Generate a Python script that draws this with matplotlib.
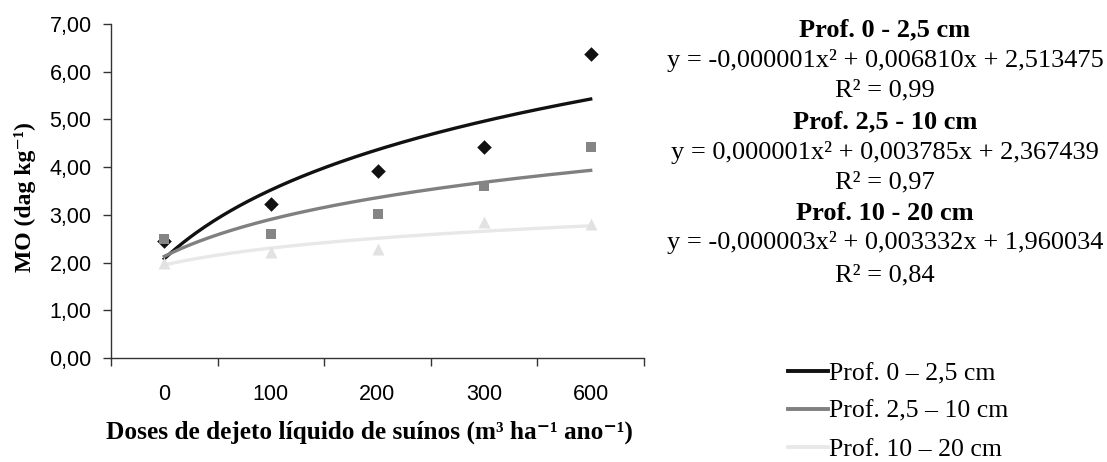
import numpy as np
import matplotlib
matplotlib.use("Agg")
import matplotlib.pyplot as plt
from matplotlib.lines import Line2D

# ---- data ----
categories = ["0", "100", "200", "300", "600"]
mo_0_25 = [2.45, 3.22, 3.92, 4.42, 6.37]
mo_25_10 = [2.49, 2.60, 3.02, 3.60, 4.42]
mo_10_20 = [1.99, 2.22, 2.28, 2.85, 2.81]
# logarithmic trend lines: y = a*ln(i) + b, i = 1..5
trend_a = [2.08, 1.12, 0.51]
trend_b = [2.08, 2.13, 1.95]
series_labels = ["Prof. 0 \u2013 2,5 cm", "Prof. 2,5 \u2013 10 cm", "Prof. 10 \u2013 20 cm"]
eq_titles = ["Prof. 0 - 2,5 cm", "Prof. 2,5 - 10 cm", "Prof. 10 - 20 cm"]
eq_texts = ["y = -0,000001x\u00b2 + 0,006810x + 2,513475",
            "y = 0,000001x\u00b2 + 0,003785x + 2,367439",
            "y = -0,000003x\u00b2 + 0,003332x + 1,960034"]
r2_texts = ["R\u00b2 = 0,99", "R\u00b2 = 0,97", "R\u00b2 = 0,84"]
yticks = [0, 1, 2, 3, 4, 5, 6, 7]

colors = ["#111111", "#808080", "#e8e8e8"]
mcolors = ["#111111", "#858585", "#e2e2e2"]
markers = ["D", "s", "^"]
msizes = [55, 60, 75]

W, H = 1107, 462
fig = plt.figure(figsize=(W / 100, H / 100), dpi=100)
ax = fig.add_axes([111 / W, 1 - 358 / H, (644 - 111) / W, (358 - 24) / H])

x = np.arange(len(categories))
serif = ["Liberation Serif", "DejaVu Serif"]
sans = ["Liberation Sans", "DejaVu Sans"]

for vals, a, b, c, mc, m, ms in zip([mo_0_25, mo_25_10, mo_10_20], trend_a, trend_b,
                                    colors, mcolors, markers, msizes):
    xs = np.linspace(0, len(categories) - 1, 200)
    ax.plot(xs, a * np.log(xs + 1) + b, color=c, lw=2.4, zorder=2)
    ax.scatter(x, vals, marker=m, color=mc, s=ms, zorder=3, linewidths=0)

ax.set_xlim(-0.5, len(categories) - 0.5)
ax.set_ylim(0, 7)
ax.set_yticks(yticks)
ax.set_yticklabels([f"{v:.2f}".replace(".", ",") for v in yticks], fontfamily=sans, fontsize=15.5)
ax.set_xticks(np.arange(len(categories) + 1) - 0.5)
ax.set_xticklabels([])
ax.set_xticks(x, minor=True)
ax.set_xticklabels(categories, minor=True, fontfamily=sans, fontsize=15.5)
ax.tick_params(axis="x", which="major", length=6, width=1, color="#333333")
ax.tick_params(axis="x", which="minor", length=0, pad=19)
ax.tick_params(axis="y", length=6, width=1, pad=8, color="#333333")
for s in ["top", "right"]:
    ax.spines[s].set_visible(False)
for s in ["left", "bottom"]:
    ax.spines[s].set_color("#333333")
    ax.spines[s].set_linewidth(1)

fig.text(25 / W, 1 - 197 / H, "MO (dag kg\u207b\u00b9)", rotation=90, ha="center", va="center",
         fontfamily=serif, fontweight="bold", fontsize=17)
fig.text(369 / W, 1 - 432 / H, "Doses de dejeto l\u00edquido de su\u00ednos (m\u00b3 ha\u207b\u00b9 ano\u207b\u00b9)",
         ha="center", va="center", fontfamily=serif, fontweight="bold", fontsize=18.2)

# equations block
cx = 885 / W
line_y = [30, 60, 90, 122, 152, 182, 213, 243, 275]
k = 0
for t, e, r in zip(eq_titles, eq_texts, r2_texts):
    for txt, wt in [(t, "bold"), (e, "normal"), (r, "normal")]:
        fig.text(cx, 1 - line_y[k] / H, txt, ha="center", va="center", fontfamily=serif,
                 fontweight=wt, fontsize=19)
        k += 1

# legend
handles = [Line2D([0], [0], color=c, lw=2.8) for c in colors]
fig.legend(handles, series_labels, loc="upper left", bbox_to_anchor=(788 / W, 1 - 362 / H),
           frameon=False, prop={"family": serif, "size": 18.5}, handlelength=1.55,
           handletextpad=0.03, labelspacing=0.58, borderaxespad=0, borderpad=0)

fig.savefig("out.png", dpi=100)
